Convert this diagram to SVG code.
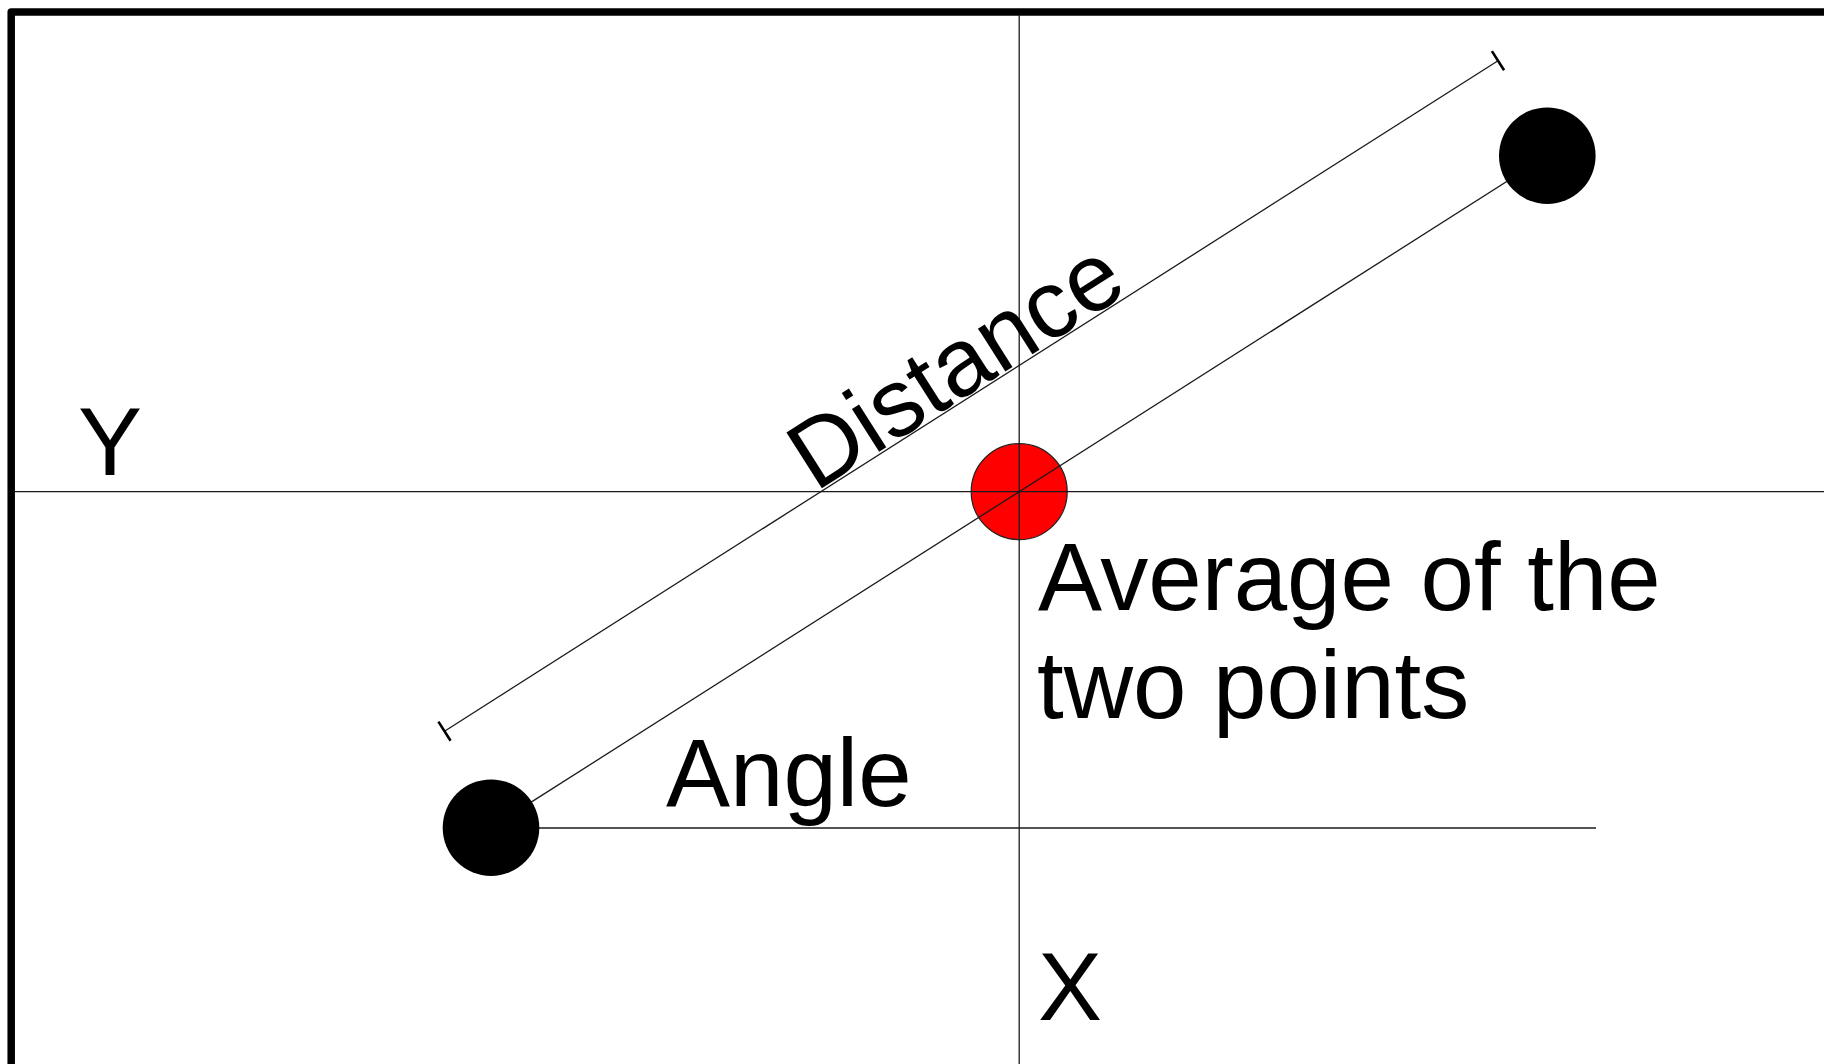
<svg xmlns="http://www.w3.org/2000/svg" width="1824" height="1064" viewBox="0 0 1824 1064">
  <style>
    .lbl { font-family: "Liberation Sans", Arial, sans-serif; font-size: 96px; fill: #000; }
    .thin { stroke: #1a1a1a; stroke-width: 1.3; fill: none; }
    .tick { stroke: #000; stroke-width: 2.6; fill: none; }
    .pt { fill: #000; }
    .avg { fill: #ff0000; stroke: #222; stroke-width: 1.2; }
  </style>
  <rect width="1824" height="1064" fill="#fff"/>
  <g id="frame">
    <path d="M11.2,1064 V12 H1824" fill="none" stroke="#000" stroke-width="7.5" stroke-linejoin="round"/>
  </g>
  <g id="average-point">
    <circle class="avg" cx="1019.2" cy="491.7" r="48"/>
  </g>
  <g id="connectors">
    <line id="x-axis" class="thin" x1="15" y1="491.7" x2="1824" y2="491.7"/>
    <line id="y-axis" class="thin" x1="1019.2" y1="15" x2="1019.2" y2="1064"/>
    <line id="segment" class="thin" x1="491" y1="827.7" x2="1547.3" y2="155.7"/>
    <line id="angle-base" class="thin" x1="491" y1="828" x2="1596" y2="828"/>
    <line id="distance-line" class="thin" x1="444.5" y1="731.2" x2="1498" y2="60.7"/>
    <line class="tick" x1="438.4" y1="721.6" x2="450.6" y2="740.8"/>
    <line class="tick" x1="1491.9" y1="51.1" x2="1504.1" y2="70.3"/>
  </g>
  <g id="point-a">
    <circle class="pt" cx="491" cy="827.7" r="48.3"/>
  </g>
  <g id="point-b">
    <circle class="pt" cx="1547.3" cy="155.7" r="48.3"/>
  </g>
  <g id="label-y">
    <text class="lbl" x="78" y="475">Y</text>
  </g>
  <g id="label-x">
    <text class="lbl" x="1038" y="1020">X</text>
  </g>
  <g id="label-angle">
    <text class="lbl" x="666" y="806">Angle</text>
  </g>
  <g id="label-average">
    <text class="lbl" x="1038" y="610">Average of the</text>
    <text class="lbl" x="1037" y="718">two points</text>
  </g>
  <g id="label-distance">
    <text class="lbl" transform="translate(815.3,492.4) rotate(-32.47)" x="0" y="0">Distance</text>
  </g>
</svg>
